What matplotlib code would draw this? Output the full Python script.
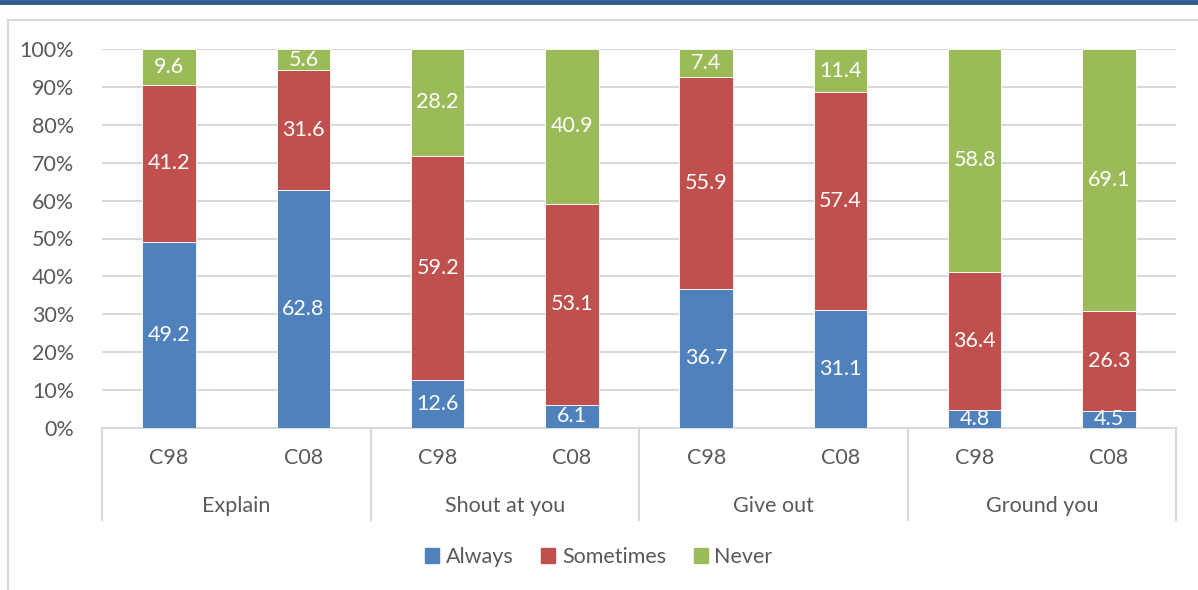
import matplotlib.pyplot as plt
from matplotlib.lines import Line2D
from matplotlib.patches import Patch
import numpy as np

groups = ["Explain", "Shout at you", "Give out", "Ground you"]
cohorts = ["C98", "C08"]
series = ["Always", "Sometimes", "Never"]
# one value per bar, in order Explain C98, Explain C08, Shout C98, ...
always = [49.2, 62.8, 12.6, 6.1, 36.7, 31.1, 4.8, 4.5]
sometimes = [41.2, 31.6, 59.2, 53.1, 55.9, 57.4, 36.4, 26.3]
never = [9.6, 5.6, 28.2, 40.9, 7.4, 11.4, 58.8, 69.1]
colors = ["#4F81BD", "#C0504D", "#9BBB59"]

plt.rcParams['font.family'] = ['Lato', 'DejaVu Sans']
txt = "#595959"
grid_c = "#D9D9D9"
fs = 15.5

fig = plt.figure(figsize=(11.98, 5.90), dpi=100)
# blue banner line and grey frame
fig.add_artist(Line2D([0, 1], [0.9966, 0.9966], color="#2E5C8F", lw=3.5, transform=fig.transFigure))
fig.add_artist(Line2D([8/1198, 1], [1-20/590, 1-20/590], color=grid_c, lw=1.5, transform=fig.transFigure))
fig.add_artist(Line2D([8/1198, 8/1198], [0, 1-20/590], color=grid_c, lw=1.5, transform=fig.transFigure))

ax = fig.add_axes([102/1198, 1-428/590, (1176-102)/1198, (428-49)/590])

vals = np.array([always, sometimes, never])
pct = vals / vals.sum(axis=0) * 100
n = len(always)
x = np.arange(n)
bottom = np.zeros(n)
for i, name in enumerate(series):
    bars = ax.bar(x, pct[i], 0.4, bottom=bottom, color=colors[i], edgecolor="white",
                  linewidth=0.6, label=name, zorder=3)
    for j in range(n):
        ax.text(x[j], bottom[j] + pct[i][j] / 2, f"{vals[i][j]:.1f}", ha="center", va="center",
                color="white", fontsize=fs, zorder=4)
    bottom += pct[i]

ax.set_xlim(-0.5, n - 0.5)
ax.set_ylim(0, 100)
ax.set_yticks(np.arange(0, 101, 10))
ax.set_yticklabels([f"{v}%" for v in range(0, 101, 10)], color=txt, fontsize=fs)
ax.yaxis.grid(True, color=grid_c, lw=1.5, zorder=0)
ax.tick_params(axis="y", length=0, pad=20)
ax.set_xticks([])
for s in ["top", "right", "left"]:
    ax.spines[s].set_visible(False)
ax.spines["bottom"].set_color(grid_c)
ax.spines["bottom"].set_linewidth(1.5)

# two-level category axis
for j in range(n):
    ax.text(x[j], -0.08, cohorts[j % 2], transform=ax.get_xaxis_transform(), ha="center",
            va="center", color=txt, fontsize=fs)
for g, name in enumerate(groups):
    ax.text(2 * g + 0.5, -0.207, name, transform=ax.get_xaxis_transform(), ha="center",
            va="center", color=txt, fontsize=fs)
for b in range(len(groups) + 1):
    ax.add_artist(Line2D([2 * b - 0.5, 2 * b - 0.5], [0, -92/379], color=grid_c, lw=1.5,
                         transform=ax.get_xaxis_transform(), clip_on=False))

handles = [Patch(color=c) for c in colors]
fig.legend(handles, series, loc="center", bbox_to_anchor=(0.5, 1-557/590), ncol=3, frameon=False,
           fontsize=fs, handlelength=0.65, handleheight=0.65, handletextpad=0.3, columnspacing=1.3,
           labelcolor=txt)

fig.savefig("out.png", dpi=100)
